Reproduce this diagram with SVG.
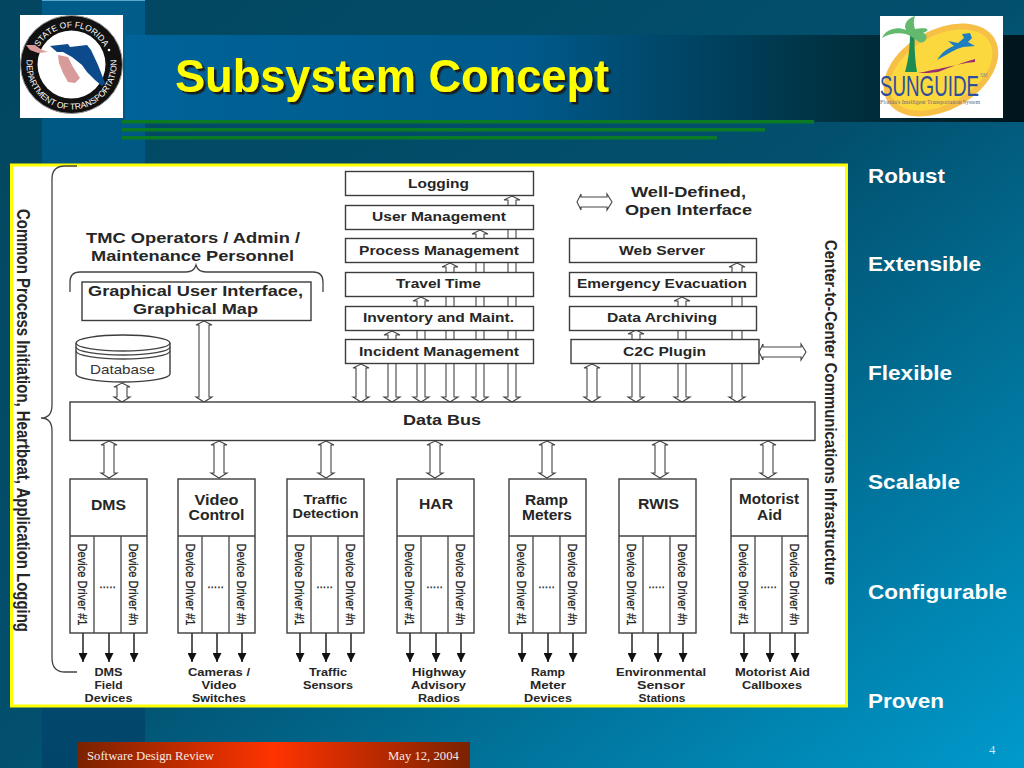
<svg xmlns="http://www.w3.org/2000/svg" xmlns:xlink="http://www.w3.org/1999/xlink" width="1024" height="768" viewBox="0 0 1024 768">
<style>
text{font-family:"Liberation Sans",Arial,sans-serif;fill:#262626}
.b{font-weight:bold;text-anchor:middle}
.n{font-size:13px}
.s{font-size:11.5px}
.box{fill:#fff;stroke:#3c3c3c;stroke-width:1.4}
.dbl{fill:#fff;stroke:#444;stroke-width:1.1}
.thin{fill:none;stroke:#444;stroke-width:1.3}
.dd{font-size:12px;text-anchor:middle;fill:#222;stroke:#222;stroke-width:.25}
.side{font-size:21px;font-weight:bold;fill:#fff}
.foot{font-family:"Liberation Serif","Times New Roman",serif;font-size:12.7px;fill:#f4e8e0}
.down{stroke:#222;stroke-width:1.5;marker-end:url(#dn)}
</style>
<defs>
<linearGradient id="bg" x1="0" y1="0" x2="1" y2="1"><stop offset="0" stop-color="#024660"/><stop offset=".5" stop-color="#02506e"/><stop offset="1" stop-color="#009acc"/></linearGradient>
<linearGradient id="band" x1="0" y1="0" x2="0" y2="1"><stop offset="0" stop-color="#005d8a"/><stop offset="1" stop-color="#02456a"/></linearGradient>
<linearGradient id="head" x1="0" y1="0" x2="1" y2="0"><stop offset="0" stop-color="#006399"/><stop offset=".45" stop-color="#00598a"/><stop offset=".8" stop-color="#00303f"/><stop offset="1" stop-color="#00141c"/></linearGradient>
<linearGradient id="foot" x1="0" y1="0" x2="1" y2="0"><stop offset="0" stop-color="#7a2200"/><stop offset=".5" stop-color="#ff3300"/><stop offset="1" stop-color="#7a2200"/></linearGradient>
<filter id="shadow" x="-5%" y="-10%" width="110%" height="125%"><feDropShadow dx="2.5" dy="2.5" stdDeviation=".6" flood-color="#1a1a1a"/></filter>
<marker id="dn" markerUnits="userSpaceOnUse" markerWidth="10" markerHeight="9" refX="9" refY="4.5" orient="auto"><path d="M0,0L9,4.5L0,9Z" fill="#111"/></marker>
<path id="topArc" d="M34.5,64.5A37,37 0 0 1 108.5,64.5"/>
<path id="botArc" d="M71.5,19.5A45,45 0 1 0 71.5,109.5A45,45 0 1 0 71.5,19.5"/>
</defs>
<g id="background">
<rect width="1024" height="768" fill="url(#bg)"/>
<rect x="42" width="103" height="768" fill="url(#band)"/>
<rect x="42" width="103" height="1" fill="#5aa6cf"/>
<rect x="125" y="35" width="899" height="87" fill="url(#head)"/>
<rect x="122" y="120" width="692" height="3.5" fill="#0a7a24"/>
<rect x="122" y="128" width="643" height="3.5" fill="#0a7a24"/>
<rect x="122" y="136" width="595" height="3.5" fill="#0a7a24"/>
</g>
<text id="title" x="175" y="92" font-size="47" font-weight="bold" textLength="434" lengthAdjust="spacingAndGlyphs" filter="url(#shadow)" style="fill:#ff0">Subsystem Concept</text>
<g id="fdot-logo">
<rect x="20" y="15" width="103" height="103" fill="#fff"/>
<ellipse cx="71.500" cy="64.500" rx="51" ry="49" fill="#111" stroke="#999" stroke-width="1"/>
<circle cx="71.500" cy="64.500" r="34" fill="#fff"/>
<path d="M50,46L68,44L70,47L87,45L91,50L98,65L105,83L102,86L95,80L87,72L82,65L72,57L63,52L57,52Z" fill="#0d4a8c"/>
<path d="M26,45L35,45L42,50L48,52L38,53L30,50Z" fill="#d99a9a"/>
<path d="M58,55L68,57L73,67L80,78L75,83L68,82L63,73L59,63Z" fill="#d99a9a"/>
<text font-size="8.500" style="fill:#fff"><textPath xlink:href="#topArc" startOffset="50%" text-anchor="middle">STATE OF FLORIDA</textPath></text>
<text font-size="8.500" style="fill:#fff"><textPath xlink:href="#botArc" startOffset="50%" text-anchor="middle">DEPARTMENT OF TRANSPORTATION</textPath></text>
<circle cx="109" cy="50" r="1.300" fill="#fff"/>
</g>
<g id="sunguide-logo">
<rect x="880" y="16" width="123" height="102" fill="#fff"/>
<ellipse cx="941" cy="70" rx="62" ry="40" transform="rotate(-30 941 70)" fill="#f6bf45"/>
<ellipse cx="941" cy="70" rx="56" ry="34" transform="rotate(-30 941 70)" fill="#fcd83f"/>
<path d="M905,72C909,58 910,45 910,33L915,33C914,45 915,60 917,72Z" fill="#1c8c50"/>
<path d="M912,37C903,31 890,33 882,38C886,29 897,26 906,30C903,24 908,18 915,16C913,22 914,26 915,29C925,27 933,29 923,33C931,36 924,45 919,42C916,40 914,38 912,37Z" fill="#63b96d"/>
<path d="M938,72C950,67 965,62 975,59L975,62C962,63 950,67 918,73C925,73 931,73 938,72Z" fill="#9a2d6e"/>
<path d="M937,60C942,52 948,48 954,46L948,41L958,43L964,38L962,34L970,33L972,38L968,42L975,46L963,47C955,49 948,54 937,60Z" fill="#1e7fc0"/>
<text x="880" y="96" font-size="29" textLength="99" lengthAdjust="spacingAndGlyphs" style="fill:#2a4fa0">SUNGUIDE</text>
<text x="980" y="77" font-size="5" style="fill:#888">SM</text>
<text x="880" y="103.500" font-size="6.500" textLength="100" lengthAdjust="spacingAndGlyphs" style="font-family:'Liberation Serif',serif;fill:#667">Florida's Intelligent Transportation System</text>
</g>
<g id="side-labels">
<text class="side" x="868" y="183" textLength="77" lengthAdjust="spacingAndGlyphs">Robust</text>
<text class="side" x="868" y="271" textLength="113" lengthAdjust="spacingAndGlyphs">Extensible</text>
<text class="side" x="868" y="380" textLength="84" lengthAdjust="spacingAndGlyphs">Flexible</text>
<text class="side" x="868" y="489" textLength="92" lengthAdjust="spacingAndGlyphs">Scalable</text>
<text class="side" x="868" y="599" textLength="139" lengthAdjust="spacingAndGlyphs">Configurable</text>
<text class="side" x="868" y="708" textLength="76" lengthAdjust="spacingAndGlyphs">Proven</text>
</g>
<rect id="frame" x="11.500" y="165" width="835" height="541" fill="#fff" stroke="#ff0" stroke-width="3"/>
<g id="connectors">
<path class="thin" d="M70,292V282Q70,272 80,272H186Q194,272 196,265Q198,272 206,272H313Q323,272 323,282V292"/>
<path class="thin" d="M77,166H65Q52,166 52,179V405Q52,418 41,418Q52,418 52,431V658Q52,672 65,672H77"/>
<path class="dbl" d="M361,364l8,4h-3V397h3l-8,5l-8,-5h3V368h-3Z"/>
<path class="dbl" d="M392,331l8,4h-4V397h4l-8,5l-8,-5h4V335h-4Z"/>
<path class="dbl" d="M421,297l8,4h-4V397h4l-8,5l-8,-5h4V301h-4Z"/>
<path class="dbl" d="M450,263l8,4h-4V397h4l-8,5l-8,-5h4V267h-4Z"/>
<path class="dbl" d="M480,230l8,4h-4V397h4l-8,5l-8,-5h4V234h-4Z"/>
<path class="dbl" d="M512,196l8,4h-4V397h4l-8,5l-8,-5h4V200h-4Z"/>
<path class="dbl" d="M592,364l8,4h-3V397h3l-8,5l-8,-5h3V368h-3Z"/>
<path class="dbl" d="M636,330l8,4h-4V397h4l-8,5l-8,-5h4V334h-4Z"/>
<path class="dbl" d="M682,297l8,4h-4V397h4l-8,5l-8,-5h4V301h-4Z"/>
<path class="dbl" d="M737,263l8,4h-3V397h3l-8,5l-8,-5h3V267h-3Z"/>
<path class="dbl" d="M122,383l8,4h-3V397h3l-8,5l-8,-5h3V387h-3Z"/>
<path class="dbl" d="M204,321l8,4h-3V397h3l-8,5l-8,-5h3V325h-3Z"/>
<path class="dbl" d="M759,352l4,-8v3H801v-3l5,8l-5,8v-3H763v3Z"/>
<path class="dbl" d="M577,202l4,-8v3H607v-3l5,8l-5,8v-3H581v3Z"/>
<path class="dbl" d="M109,441l8,4h-3V473h3l-8,5l-8,-5h3V445h-3Z"/>
<path class="dbl" d="M219,441l8,4h-3V473h3l-8,5l-8,-5h3V445h-3Z"/>
<path class="dbl" d="M326,441l8,4h-3V473h3l-8,5l-8,-5h3V445h-3Z"/>
<path class="dbl" d="M435,441l8,4h-3V473h3l-8,5l-8,-5h3V445h-3Z"/>
<path class="dbl" d="M547,441l8,4h-3V473h3l-8,5l-8,-5h3V445h-3Z"/>
<path class="dbl" d="M660,441l8,4h-3V473h3l-8,5l-8,-5h3V445h-3Z"/>
<path class="dbl" d="M768,441l8,4h-3V473h3l-8,5l-8,-5h3V445h-3Z"/>
<line class="down" x1="83" y1="633" x2="83" y2="662"/><line class="down" x1="109" y1="633" x2="109" y2="662"/><line class="down" x1="134" y1="633" x2="134" y2="662"/>
<line class="down" x1="192" y1="633" x2="192" y2="662"/><line class="down" x1="217" y1="633" x2="217" y2="662"/><line class="down" x1="242" y1="633" x2="242" y2="662"/>
<line class="down" x1="300" y1="633" x2="300" y2="662"/><line class="down" x1="326" y1="633" x2="326" y2="662"/><line class="down" x1="351" y1="633" x2="351" y2="662"/>
<line class="down" x1="410" y1="633" x2="410" y2="662"/><line class="down" x1="436" y1="633" x2="436" y2="662"/><line class="down" x1="461" y1="633" x2="461" y2="662"/>
<line class="down" x1="522" y1="633" x2="522" y2="662"/><line class="down" x1="548" y1="633" x2="548" y2="662"/><line class="down" x1="573" y1="633" x2="573" y2="662"/>
<line class="down" x1="632" y1="633" x2="632" y2="662"/><line class="down" x1="658" y1="633" x2="658" y2="662"/><line class="down" x1="683" y1="633" x2="683" y2="662"/>
<line class="down" x1="744" y1="633" x2="744" y2="662"/><line class="down" x1="770" y1="633" x2="770" y2="662"/><line class="down" x1="795" y1="633" x2="795" y2="662"/>
</g>
<g id="logging"><rect class="box" x="345.500" y="171.500" width="188" height="24"/><text class="b n" x="438.500" y="187.500" textLength="61" lengthAdjust="spacingAndGlyphs">Logging</text></g>
<g id="user-management"><rect class="box" x="345.500" y="205.500" width="188" height="24"/><text class="b n" x="439" y="221" textLength="134" lengthAdjust="spacingAndGlyphs">User Management</text></g>
<g id="process-management"><rect class="box" x="345.500" y="238.500" width="188" height="24"/><text class="b n" x="439" y="254.500" textLength="160" lengthAdjust="spacingAndGlyphs">Process Management</text></g>
<g id="travel-time"><rect class="box" x="345.500" y="272.500" width="188" height="24"/><text class="b n" x="438.500" y="288" textLength="85" lengthAdjust="spacingAndGlyphs">Travel Time</text></g>
<g id="inventory"><rect class="box" x="345.500" y="306.500" width="188" height="24"/><text class="b n" x="438.500" y="322" textLength="151" lengthAdjust="spacingAndGlyphs">Inventory and Maint.</text></g>
<g id="incident-management"><rect class="box" x="345.500" y="339.500" width="188" height="24"/><text class="b n" x="439" y="355.500" textLength="160" lengthAdjust="spacingAndGlyphs">Incident Management</text></g>
<g id="web-server"><rect class="box" x="569.500" y="238.500" width="187" height="24"/><text class="b n" x="662" y="254.500" textLength="86" lengthAdjust="spacingAndGlyphs">Web Server</text></g>
<g id="emergency-evacuation"><rect class="box" x="569.500" y="272.500" width="187" height="24"/><text class="b n" x="662" y="288" textLength="170" lengthAdjust="spacingAndGlyphs">Emergency Evacuation</text></g>
<g id="data-archiving"><rect class="box" x="569.500" y="306.500" width="187" height="24"/><text class="b n" x="662" y="322" textLength="110" lengthAdjust="spacingAndGlyphs">Data Archiving</text></g>
<g id="c2c-plugin"><rect class="box" x="571" y="339.500" width="188" height="24"/><text class="b n" x="664.500" y="355.500" textLength="83" lengthAdjust="spacingAndGlyphs">C2C Plugin</text></g>
<g id="legend"><text class="b" x="688.500" y="197" font-size="15" textLength="115" lengthAdjust="spacingAndGlyphs">Well-Defined,</text><text class="b" x="688.500" y="215" font-size="15" textLength="127" lengthAdjust="spacingAndGlyphs">Open Interface</text></g>
<g id="operators"><text class="b" x="193" y="243" font-size="15" textLength="214" lengthAdjust="spacingAndGlyphs">TMC Operators / Admin /</text><text class="b" x="192.500" y="261" font-size="15" textLength="203" lengthAdjust="spacingAndGlyphs">Maintenance Personnel</text></g>
<g id="gui"><rect class="box" x="82" y="282" width="229" height="38.500"/><text class="b" x="195.500" y="296" font-size="15" textLength="215" lengthAdjust="spacingAndGlyphs">Graphical User Interface,</text><text class="b" x="195.500" y="314" font-size="15" textLength="125" lengthAdjust="spacingAndGlyphs">Graphical Map</text></g>
<g id="database">
<path class="box" d="M76,343A47,8 0 0 1 170,343V374A47,8 0 0 1 76,374Z"/>
<path class="thin" d="M76,343A47,8 0 0 0 170,343M76,347A47,8 0 0 0 170,347M76,351A47,8 0 0 0 170,351"/>
<text x="122.500" y="374" font-size="13.500" text-anchor="middle" textLength="65" lengthAdjust="spacingAndGlyphs" style="fill:#333">Database</text>
</g>
<g id="data-bus"><rect class="box" x="70" y="402" width="745" height="38.500"/><text class="b" x="442" y="425" font-size="15" textLength="78" lengthAdjust="spacingAndGlyphs">Data Bus</text></g>
<g id="common-label"><text class="b" transform="translate(17 420.500) rotate(90)" font-size="18" textLength="423" lengthAdjust="spacingAndGlyphs">Common Process Initiation, Heartbeat, Application Logging</text></g>
<g id="c2c-label"><text class="b" transform="translate(825 412.500) rotate(90)" font-size="17" textLength="345" lengthAdjust="spacingAndGlyphs">Center-to-Center Communications Infrastructure</text></g>

<g id="dms"><rect class="box" x="70" y="479" width="77" height="154"/><path class="thin" d="M70,536H147M94,536V633M121,536V633"/><text class="b" x="108.500" y="510" font-size="14" textLength="35" lengthAdjust="spacingAndGlyphs">DMS</text><text class="dd" transform="translate(78 584.500) rotate(90)" textLength="82" lengthAdjust="spacingAndGlyphs">Device Driver #1</text><text class="dd" transform="translate(129 584.500) rotate(90)" textLength="82" lengthAdjust="spacingAndGlyphs">Device Driver #n</text><text class="dd" x="107.500" y="588">.....</text></g>
<g id="video-control"><rect class="box" x="178" y="479" width="77" height="154"/><path class="thin" d="M178,536H255M202,536V633M229,536V633"/><text class="b" x="216.500" y="505" font-size="14" textLength="44" lengthAdjust="spacingAndGlyphs">Video</text><text class="b" x="216.500" y="520" font-size="14" textLength="56" lengthAdjust="spacingAndGlyphs">Control</text><text class="dd" transform="translate(186 584.500) rotate(90)" textLength="82" lengthAdjust="spacingAndGlyphs">Device Driver #1</text><text class="dd" transform="translate(237 584.500) rotate(90)" textLength="82" lengthAdjust="spacingAndGlyphs">Device Driver #n</text><text class="dd" x="215.500" y="588">.....</text></g>
<g id="traffic-detection"><rect class="box" x="287" y="479" width="77" height="154"/><path class="thin" d="M287,536H364M311,536V633M338,536V633"/><text class="b" x="325.500" y="504" font-size="13" textLength="44" lengthAdjust="spacingAndGlyphs">Traffic</text><text class="b" x="325.500" y="518" font-size="13" textLength="66" lengthAdjust="spacingAndGlyphs">Detection</text><text class="dd" transform="translate(295 584.500) rotate(90)" textLength="82" lengthAdjust="spacingAndGlyphs">Device Driver #1</text><text class="dd" transform="translate(346 584.500) rotate(90)" textLength="82" lengthAdjust="spacingAndGlyphs">Device Driver #n</text><text class="dd" x="324.500" y="588">.....</text></g>
<g id="har"><rect class="box" x="397" y="479" width="77" height="154"/><path class="thin" d="M397,536H474M421,536V633M448,536V633"/><text class="b" x="436" y="509" font-size="14" textLength="34" lengthAdjust="spacingAndGlyphs">HAR</text><text class="dd" transform="translate(405 584.500) rotate(90)" textLength="82" lengthAdjust="spacingAndGlyphs">Device Driver #1</text><text class="dd" transform="translate(456 584.500) rotate(90)" textLength="82" lengthAdjust="spacingAndGlyphs">Device Driver #n</text><text class="dd" x="434.500" y="588">.....</text></g>
<g id="ramp-meters"><rect class="box" x="509" y="479" width="77" height="154"/><path class="thin" d="M509,536H586M533,536V633M560,536V633"/><text class="b" x="546.500" y="505" font-size="14" textLength="43" lengthAdjust="spacingAndGlyphs">Ramp</text><text class="b" x="547" y="520" font-size="14" textLength="50" lengthAdjust="spacingAndGlyphs">Meters</text><text class="dd" transform="translate(517 584.500) rotate(90)" textLength="82" lengthAdjust="spacingAndGlyphs">Device Driver #1</text><text class="dd" transform="translate(568 584.500) rotate(90)" textLength="82" lengthAdjust="spacingAndGlyphs">Device Driver #n</text><text class="dd" x="546.500" y="588">.....</text></g>
<g id="rwis"><rect class="box" x="619" y="479" width="77" height="154"/><path class="thin" d="M619,536H696M643,536V633M670,536V633"/><text class="b" x="658.500" y="509" font-size="14" textLength="41" lengthAdjust="spacingAndGlyphs">RWIS</text><text class="dd" transform="translate(627 584.500) rotate(90)" textLength="82" lengthAdjust="spacingAndGlyphs">Device Driver #1</text><text class="dd" transform="translate(678 584.500) rotate(90)" textLength="82" lengthAdjust="spacingAndGlyphs">Device Driver #n</text><text class="dd" x="656.500" y="588">.....</text></g>
<g id="motorist-aid"><rect class="box" x="731" y="479" width="77" height="154"/><path class="thin" d="M731,536H808M755,536V633M782,536V633"/><text class="b" x="769" y="504" font-size="14" textLength="60" lengthAdjust="spacingAndGlyphs">Motorist</text><text class="b" x="769.500" y="520" font-size="14" textLength="25" lengthAdjust="spacingAndGlyphs">Aid</text><text class="dd" transform="translate(739 584.500) rotate(90)" textLength="82" lengthAdjust="spacingAndGlyphs">Device Driver #1</text><text class="dd" transform="translate(790 584.500) rotate(90)" textLength="82" lengthAdjust="spacingAndGlyphs">Device Driver #n</text><text class="dd" x="768.500" y="588">.....</text></g>

<g id="devices">
<text class="b s" x="108.500" y="676" textLength="28" lengthAdjust="spacingAndGlyphs">DMS</text><text class="b s" x="108.500" y="689" textLength="28" lengthAdjust="spacingAndGlyphs">Field</text><text class="b s" x="108.500" y="702" textLength="48" lengthAdjust="spacingAndGlyphs">Devices</text>
<text class="b s" x="219" y="676" textLength="62" lengthAdjust="spacingAndGlyphs">Cameras /</text><text class="b s" x="219" y="689" textLength="35" lengthAdjust="spacingAndGlyphs">Video</text><text class="b s" x="219" y="702" textLength="54" lengthAdjust="spacingAndGlyphs">Switches</text>
<text class="b s" x="328" y="676" textLength="38" lengthAdjust="spacingAndGlyphs">Traffic</text><text class="b s" x="328" y="689" textLength="50" lengthAdjust="spacingAndGlyphs">Sensors</text>
<text class="b s" x="439" y="676" textLength="54" lengthAdjust="spacingAndGlyphs">Highway</text><text class="b s" x="438.500" y="689" textLength="55" lengthAdjust="spacingAndGlyphs">Advisory</text><text class="b s" x="439" y="702" textLength="42" lengthAdjust="spacingAndGlyphs">Radios</text>
<text class="b s" x="548" y="676" textLength="34" lengthAdjust="spacingAndGlyphs">Ramp</text><text class="b s" x="548" y="689" textLength="36" lengthAdjust="spacingAndGlyphs">Meter</text><text class="b s" x="548" y="702" textLength="48" lengthAdjust="spacingAndGlyphs">Devices</text>
<text class="b s" x="661" y="676" textLength="90" lengthAdjust="spacingAndGlyphs">Environmental</text><text class="b s" x="661" y="689" textLength="48" lengthAdjust="spacingAndGlyphs">Sensor</text><text class="b s" x="662" y="702" textLength="47" lengthAdjust="spacingAndGlyphs">Stations</text>
<text class="b s" x="772.500" y="676" textLength="75" lengthAdjust="spacingAndGlyphs">Motorist Aid</text><text class="b s" x="772" y="689" textLength="60" lengthAdjust="spacingAndGlyphs">Callboxes</text>
</g>
<g id="footer">
<rect x="77" y="742" width="393" height="26" fill="url(#foot)"/>
<text class="foot" x="87" y="760">Software Design Review</text>
<text class="foot" x="388" y="760">May 12, 2004</text>
<text class="foot" x="989" y="754" style="fill:#cfe8f2">4</text>
</g>
</svg>
